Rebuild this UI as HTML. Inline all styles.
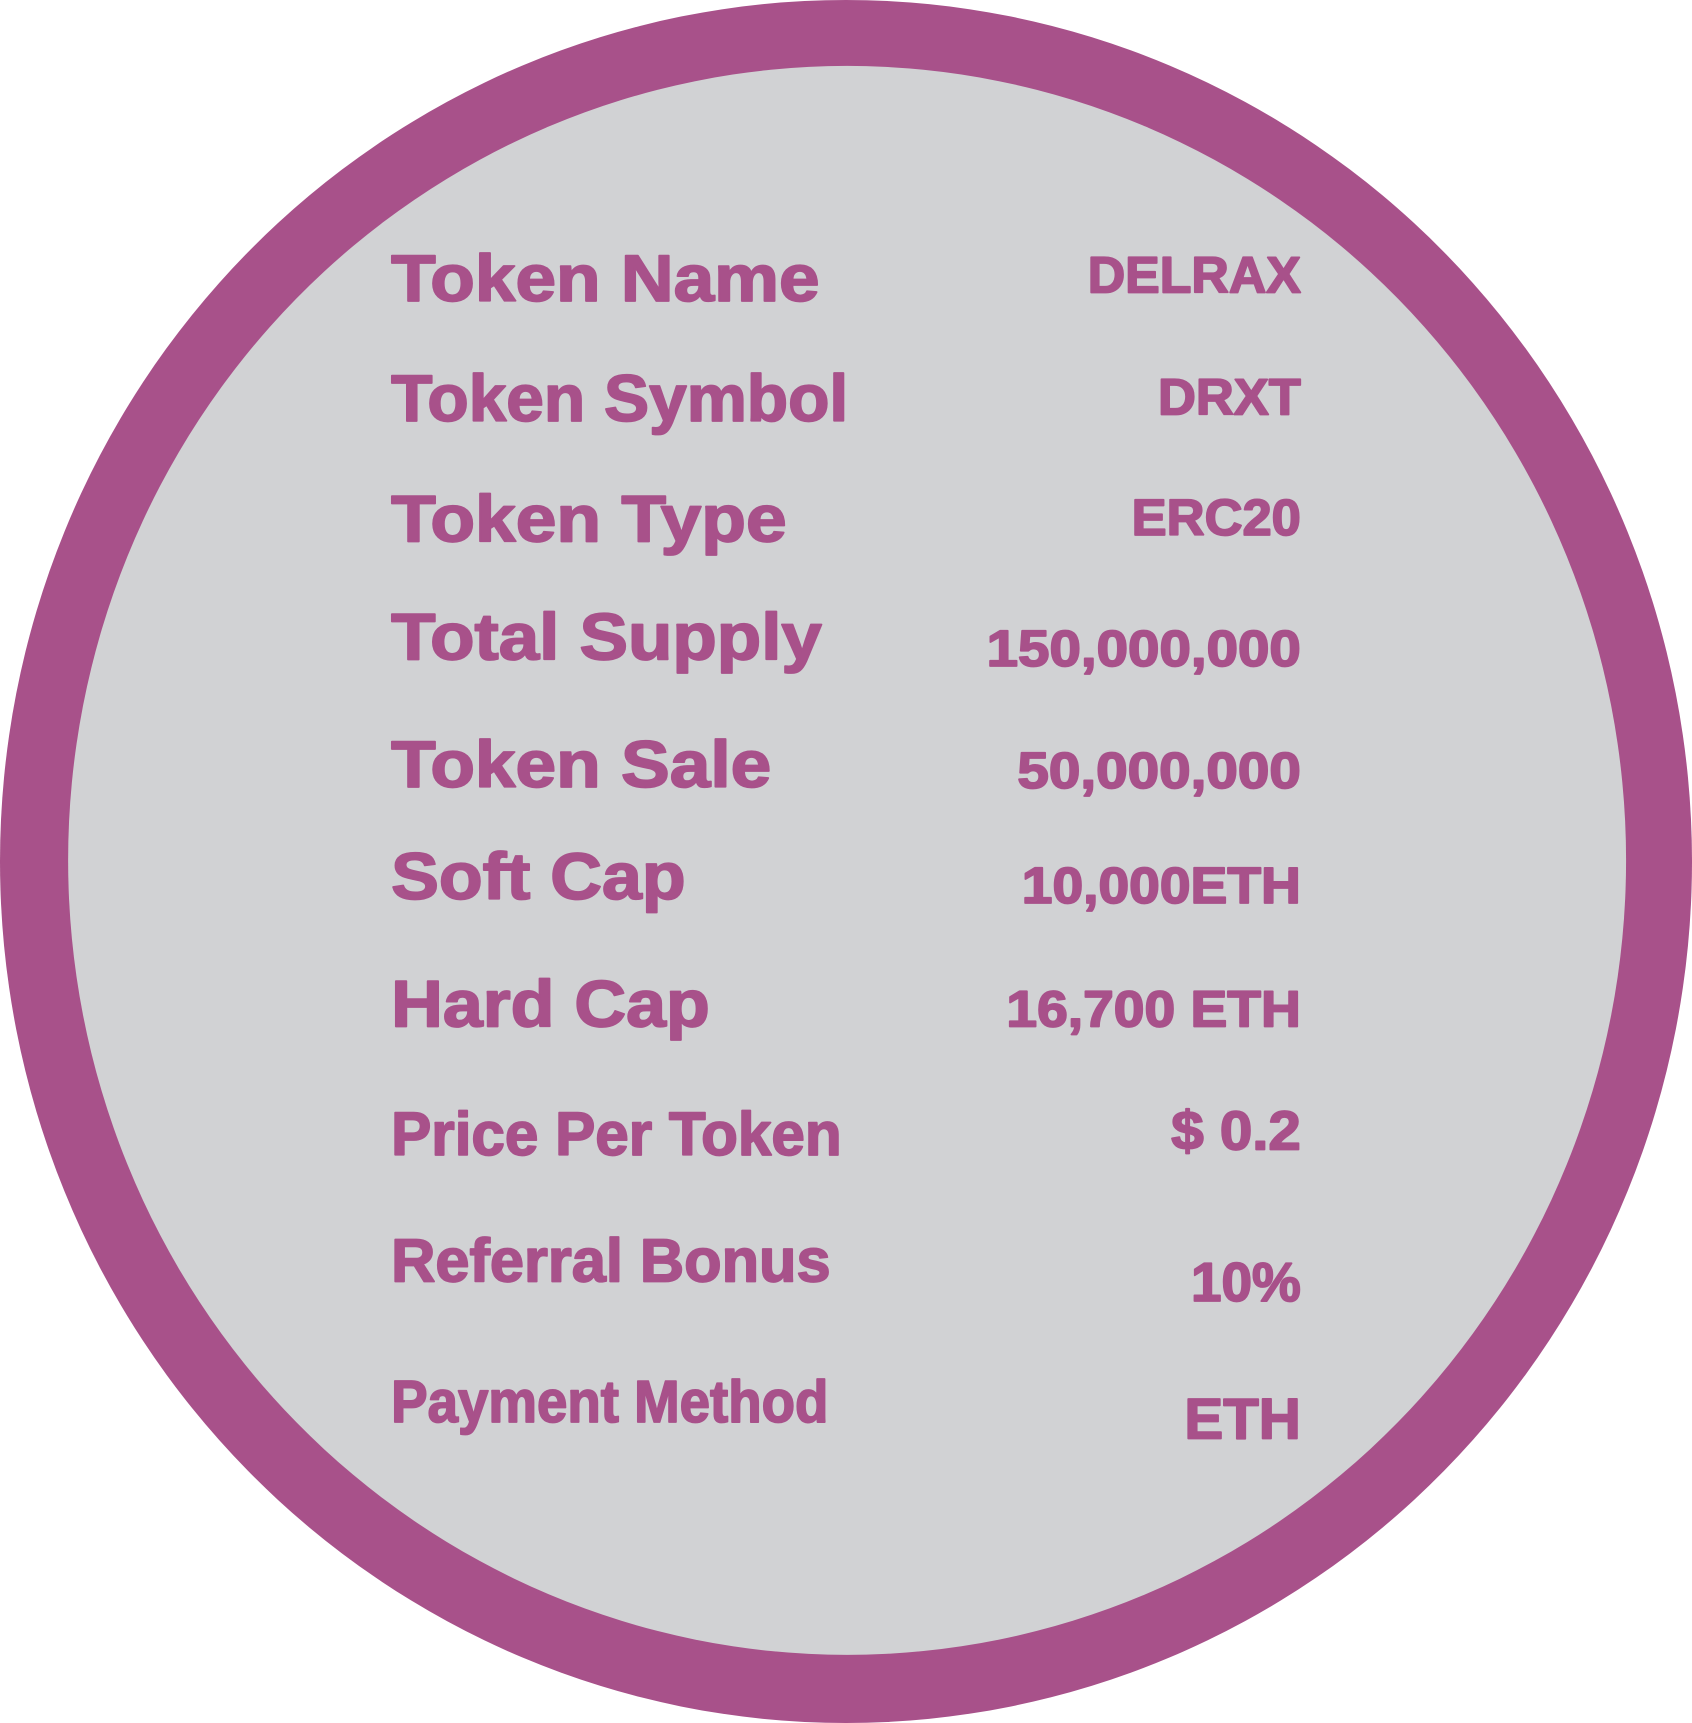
<!DOCTYPE html>
<html>
<head>
<meta charset="utf-8">
<style>
html,body{margin:0;padding:0;background:#fff;}
svg{display:block;}
text{font-family:"Liberation Sans",Arial,sans-serif;font-weight:bold;fill:#a8518a;stroke:#a8518a;stroke-width:1.6;stroke-linejoin:round;}
</style>
</head>
<body>
<svg width="1692" height="1723" viewBox="0 0 1540 1568" preserveAspectRatio="none">
  <ellipse cx="770" cy="784" rx="770" ry="784" fill="#a8518a"/>
  <ellipse cx="771" cy="783" rx="709" ry="723" fill="#d1d2d4"/>
  <g>
    <text x="356" y="274" font-size="60" textLength="390" lengthAdjust="spacingAndGlyphs">Token Name</text>
    <text x="356" y="383" font-size="60" textLength="416" lengthAdjust="spacingAndGlyphs">Token Symbol</text>
    <text x="356" y="493" font-size="60" textLength="360" lengthAdjust="spacingAndGlyphs">Token Type</text>
    <text x="356" y="600" font-size="60" textLength="392" lengthAdjust="spacingAndGlyphs">Total Supply</text>
    <text x="356" y="716" font-size="60" textLength="346" lengthAdjust="spacingAndGlyphs">Token Sale</text>
    <text x="356" y="818" font-size="60" textLength="268" lengthAdjust="spacingAndGlyphs">Soft Cap</text>
    <text x="356" y="934" font-size="60" textLength="290" lengthAdjust="spacingAndGlyphs">Hard Cap</text>
    <text x="356" y="1051" font-size="56" textLength="410" lengthAdjust="spacingAndGlyphs">Price Per Token</text>
    <text x="356" y="1166" font-size="56" textLength="400" lengthAdjust="spacingAndGlyphs">Referral Bonus</text>
    <text x="356" y="1294" font-size="54" textLength="398" lengthAdjust="spacingAndGlyphs">Payment Method</text>
  </g>
  <g text-anchor="end">
    <text x="1184" y="266" font-size="46" textLength="194" lengthAdjust="spacingAndGlyphs">DELRAX</text>
    <text x="1184" y="377" font-size="46" textLength="130" lengthAdjust="spacingAndGlyphs">DRXT</text>
    <text x="1184" y="487" font-size="46" textLength="154" lengthAdjust="spacingAndGlyphs">ERC20</text>
    <text x="1184" y="606" font-size="46" textLength="286" lengthAdjust="spacingAndGlyphs">150,000,000</text>
    <text x="1184" y="717" font-size="46" textLength="258" lengthAdjust="spacingAndGlyphs">50,000,000</text>
    <text x="1184" y="822" font-size="46" textLength="254" lengthAdjust="spacingAndGlyphs">10,000ETH</text>
    <text x="1184" y="934" font-size="46" textLength="268" lengthAdjust="spacingAndGlyphs">16,700 ETH</text>
    <text x="1184" y="1046" font-size="50" textLength="118" lengthAdjust="spacingAndGlyphs">$ 0.2</text>
    <text x="1184" y="1184" font-size="50" textLength="100" lengthAdjust="spacingAndGlyphs">10%</text>
    <text x="1184" y="1309" font-size="52" textLength="106" lengthAdjust="spacingAndGlyphs">ETH</text>
  </g>
</svg>
</body>
</html>
